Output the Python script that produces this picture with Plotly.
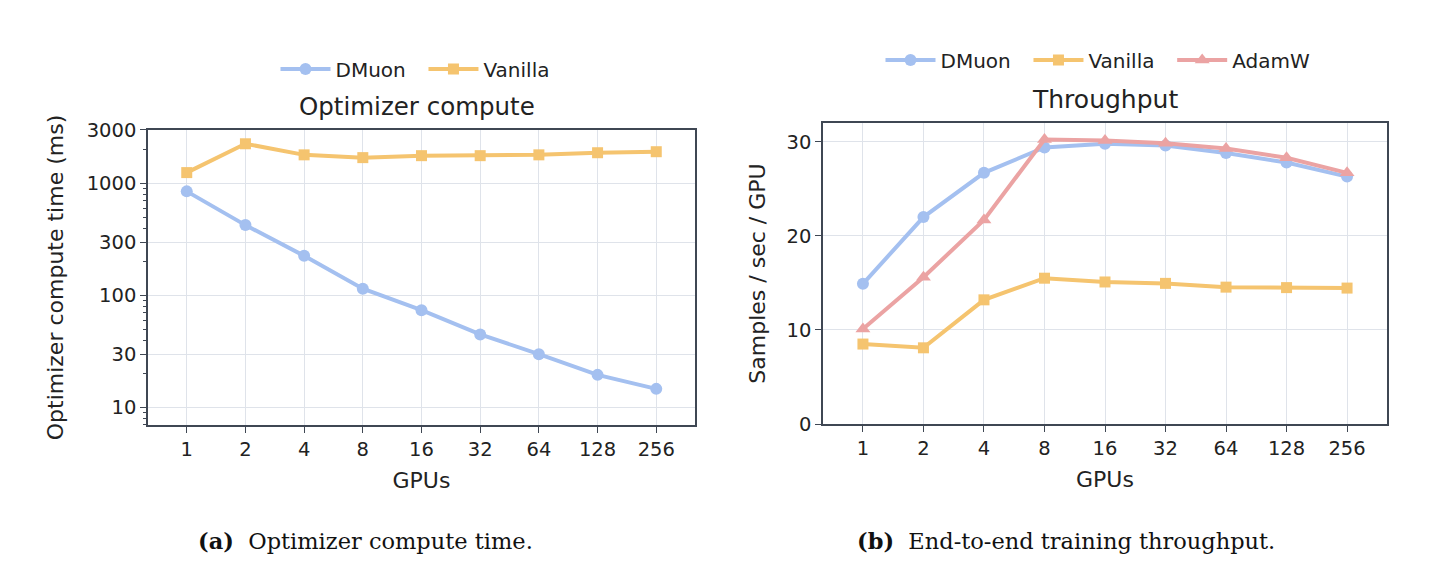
import plotly.graph_objects as go

gpus = ["1", "2", "4", "8", "16", "32", "64", "128", "256"]

# Left: optimizer compute time (ms)
dmuon_time = [850, 425, 226, 115, 74, 45, 30, 19.6, 14.7]
vanilla_time = [1250, 2260, 1800, 1700, 1770, 1770, 1800, 1880, 1920]

# Right: throughput (samples / sec / GPU)
dmuon_tp = [14.9, 22.0, 26.7, 29.4, 29.8, 29.6, 28.8, 27.8, 26.3]
vanilla_tp = [8.5, 8.1, 13.2, 15.5, 15.1, 14.95, 14.55, 14.5, 14.45]
adamw_tp = [10.1, 15.6, 21.7, 30.25, 30.15, 29.85, 29.3, 28.3, 26.7]

C_BLUE = "#a4c0f0"
C_ORANGE = "#f5c46f"
C_RED = "#eba3a3"
FRAME = "#3f4753"
GRID = "#dfe3ea"
FONT = "DejaVu Sans"
NB = "\u00a0\u00a0"

fig = go.Figure()
xi = list(range(len(gpus)))

def add(x, y, name, color, symbol, xa, ya, legend, size=12):
    fig.add_trace(go.Scatter(
        x=x, y=y, name=name, mode="lines+markers",
        line=dict(color=color, width=4),
        marker=dict(color=color, symbol=symbol, size=size),
        xaxis=xa, yaxis=ya, legend=legend))

add(xi, dmuon_time, "DMuon" + NB, C_BLUE, "circle", "x", "y", "legend")
add(xi, vanilla_time, "Vanilla", C_ORANGE, "square", "x", "y", "legend", 11)
add(xi, dmuon_tp, "DMuon" + NB, C_BLUE, "circle", "x2", "y2", "legend2")
add(xi, vanilla_tp, "Vanilla" + NB, C_ORANGE, "square", "x2", "y2", "legend2", 11)
add(xi, adamw_tp, "AdamW", C_RED, "triangle-up", "x2", "y2", "legend2", 13)

W, H = 1445, 585
def px(x): return x / W
def py(y): return 1 - y / H

axcommon = dict(
    showline=True, linecolor=FRAME, linewidth=1.6, mirror=True,
    gridcolor=GRID, gridwidth=1, zeroline=False, automargin=False,
    ticks="outside", ticklen=6, tickcolor=FRAME, tickwidth=1.3,
    tickfont=dict(family=FONT, size=19.5, color="#222"),
)
TFONT = dict(family=FONT, size=22, color="#222")

fig.update_layout(
    template="none",
    width=W, height=H, autosize=False,
    margin=dict(l=0, r=0, t=0, b=0, pad=0),
    paper_bgcolor="white", plot_bgcolor="white",
    font=dict(family=FONT, color="#222"),
    showlegend=True,
    xaxis=dict(domain=[px(148), px(695)], range=[-0.66, 8.66],
               tickvals=xi, ticktext=gpus, anchor="y",
               title=dict(text="GPUs", font=TFONT, standoff=12), **axcommon),
    yaxis=dict(domain=[py(425), py(130)], type="log",
               range=[0.845, 3.477],
               tickvals=[10, 30, 100, 300, 1000, 3000],
               ticktext=["10", "30", "100", "300", "1000", "3000"],
               minor=dict(ticks="outside", ticklen=3, tickcolor=FRAME, showgrid=False,
                          tickvals=[7, 8, 9, 20, 40, 50, 60, 70, 80, 90, 200, 400, 500,
                                    600, 700, 800, 900, 2000]),
               anchor="x",
               title=dict(text="Optimizer compute time (ms)", font=TFONT, standoff=17),
               **axcommon),
    xaxis2=dict(domain=[px(823), px(1387)], range=[-0.66, 8.66],
                tickvals=xi, ticktext=gpus, anchor="y2",
                title=dict(text="GPUs", font=TFONT, standoff=12), **axcommon),
    yaxis2=dict(domain=[py(424), py(123)], range=[0, 32],
                tickvals=[0, 10, 20, 30], anchor="x2",
                title=dict(text="Samples / sec / GPU", font=TFONT, standoff=15),
                **axcommon),
    legend=dict(orientation="h", x=px(415), y=py(69), xanchor="center", yanchor="middle",
                font=dict(family=FONT, size=20, color="#222"), itemwidth=50,
                bgcolor="rgba(0,0,0,0)"),
    legend2=dict(orientation="h", x=px(1098), y=py(60), xanchor="center", yanchor="middle",
                 font=dict(family=FONT, size=20, color="#222"), itemwidth=50,
                 bgcolor="rgba(0,0,0,0)"),
)

fig.add_annotation(text="Optimizer compute", x=px(417), y=py(106), xref="paper", yref="paper",
                   xanchor="center", yanchor="middle",
                   showarrow=False, font=dict(family=FONT, size=24.5, color="#222"))
fig.add_annotation(text="Throughput", x=px(1105), y=py(99), xref="paper", yref="paper",
                   xanchor="center", yanchor="middle",
                   showarrow=False, font=dict(family=FONT, size=25, color="#222"))

SERIF = "DejaVu Serif"
fig.add_annotation(text="<b>(a)</b>  Optimizer compute time.", x=px(365), y=py(541),
                   xref="paper", yref="paper", showarrow=False,
                   xanchor="center", yanchor="middle",
                   font=dict(family=SERIF, size=22.5, color="#111"))
fig.add_annotation(text="<b>(b)</b>  End-to-end training throughput.", x=px(1066), y=py(541),
                   xref="paper", yref="paper", showarrow=False,
                   xanchor="center", yanchor="middle",
                   font=dict(family=SERIF, size=22.5, color="#111"))

fig.write_html("out.html")
